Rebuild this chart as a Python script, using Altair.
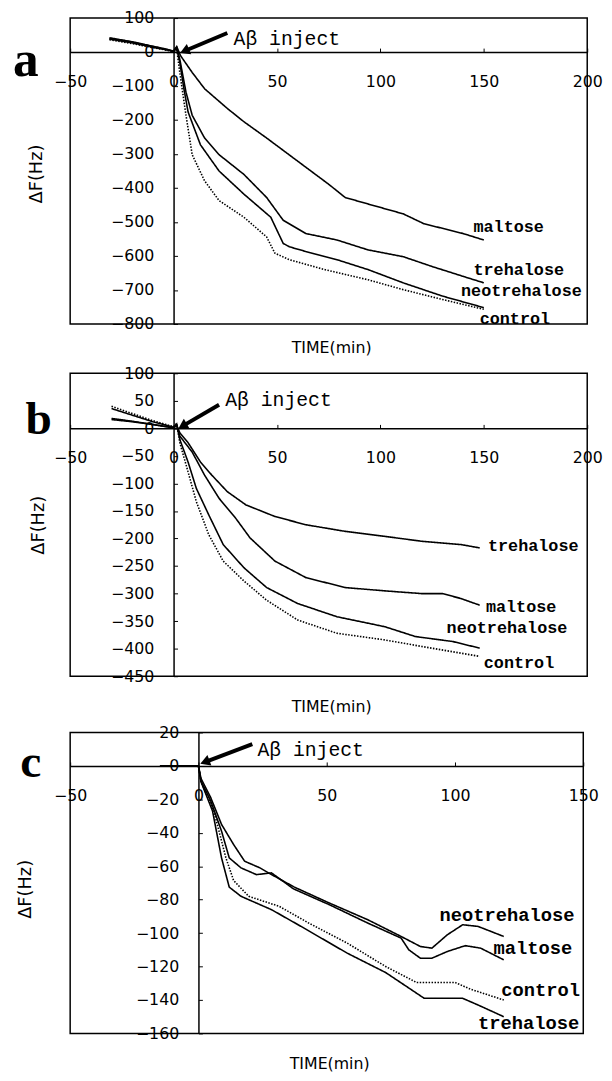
import math
import altair as alt
import pandas as pd

# ---------------- data ----------------
# Panel a
A_MALTOSE_X = [-31, -20, -10, -3, 0, 1.5, 3.4, 9, 15, 26, 34, 45, 60, 75, 83, 94, 111, 121, 140, 150]
A_MALTOSE_Y = [40, 30, 17, 8, 3, 16, -11, -60, -108, -166, -205, -253, -321, -389, -428, -447, -476, -505, -534, -553]
A_TREHALOSE_X = [-31, -20, -10, -3, 0, 1.5, 3, 6, 9, 15, 22, 34, 45, 53, 64, 79, 94, 111, 125, 140, 150]
A_TREHALOSE_Y = [42, 30, 16, 7, 2, 14, -21, -118, -186, -253, -302, -360, -428, -495, -534, -553, -582, -602, -631, -660, -679]
A_NEO_X = [-31, -20, -10, -3, 0, 1.5, 3, 5, 7, 13, 22, 34, 47, 53, 56, 64, 79, 94, 111, 130, 150]
A_NEO_Y = [38, 27, 14, 6, 1, 12, -30, -108, -176, -273, -350, -418, -486, -563, -573, -587, -611, -640, -679, -718, -752]
A_CONTROL_X = [-31, -20, -10, -3, 0, 1.5, 3, 6, 9, 15, 22, 34, 45, 49, 56, 73, 94, 111, 130, 150]
A_CONTROL_Y = [36, 25, 13, 5, 0, 10, -60, -186, -302, -379, -437, -486, -544, -592, -611, -640, -670, -699, -728, -757]

# Panel b
B_TREHALOSE_X = [-30, -20, -10, 0, 1.5, 3, 7, 13, 18.5, 26, 35, 49, 64, 83, 102, 120, 139, 148]
B_TREHALOSE_Y = [16, 12, 7, 1, 6, -8, -26, -61, -85, -115, -139, -160, -175, -187, -196, -205, -211, -217]
B_MALTOSE_X = [-30, -20, -10, 0, 1.5, 3, 9, 15, 22, 30, 37, 49, 64, 83, 102, 120, 130, 139, 148]
B_MALTOSE_Y = [18, 13, 7, 1, 5, -14, -43, -85, -127, -163, -199, -241, -271, -289, -295, -300, -300, -309, -321]
B_NEO_X = [-30, -20, -10, 0, 1.5, 3, 7, 11, 17, 24, 34, 45, 60, 79, 102, 117, 135, 148]
B_NEO_Y = [36, 24, 12, 2, 8, -20, -61, -109, -157, -211, -253, -289, -318, -342, -360, -378, -387, -399]
B_CONTROL_X = [-30, -20, -10, 0, 1.5, 3, 7, 11, 17, 24, 34, 45, 60, 79, 102, 120, 148]
B_CONTROL_Y = [40, 27, 14, 3, 9, -26, -79, -133, -193, -241, -277, -312, -348, -372, -384, -396, -414]

# Panel c
C_NEO_X = [-15, 0, 1, 4.8, 9, 13.7, 18, 24, 28.5, 37.4, 51, 66, 79, 86.5, 91, 97, 103, 109, 119]
C_NEO_Y = [0, 0, -7.5, -19, -35, -47, -57, -61, -65, -72.5, -82, -92, -102, -108, -109, -101, -95, -96, -102]
C_MALTOSE_X = [-15, 0, 1, 4.8, 9, 12, 16.6, 22.6, 28.5, 37, 51, 66, 79, 82, 86.5, 91, 97, 104, 110, 119]
C_MALTOSE_Y = [0, 0, -9, -21, -39, -55, -61, -65, -64, -73.5, -83, -94, -103, -110, -115, -115, -111, -107.5, -109, -116]
C_CONTROL_X = [-15, 0, 1, 6, 10.7, 13.7, 19.6, 31.5, 43, 58, 73, 85, 100, 106, 119]
C_CONTROL_Y = [0, 0, -9.5, -27, -55, -68.5, -78, -84, -94, -106, -120, -129.5, -129.5, -133.5, -140]
C_TREHALOSE_X = [-15, 0, 1, 5.5, 9, 12, 16.6, 28.5, 40, 58, 73, 88, 103, 109, 119]
C_TREHALOSE_Y = [0, 0, -9.5, -27, -55, -72.5, -78, -86, -96, -112, -123.6, -139, -139, -143, -150]

# series labels (text, x, y)
A_LABELS = ["maltose", "trehalose", "neotrehalose", "control"]
A_LABEL_X = [145, 145, 139, 148]
A_LABEL_Y = [-515, -641, -703, -786]
B_LABELS = ["trehalose", "maltose", "neotrehalose", "control"]
B_LABEL_X = [152, 151, 132, 150]
B_LABEL_Y = [-214, -324, -363, -426]
C_LABELS = ["neotrehalose", "maltose", "control", "trehalose"]
C_LABEL_X = [94, 115, 118, 109]
C_LABEL_Y = [-89, -109, -134, -154]

# "Aβ inject" arrows: start (x, y) -> tip (x, y), text anchor (x, y)
A_ARROW = [(26, 56), (5.3, 3)]
A_INJECT = (29, 37)
B_ARROW = [(22, 43), (4.3, 4)]
B_INJECT = (25, 52)
C_ARROW = [(21, 13), (2.5, 2.3)]
C_INJECT = (23, 9.2)

# axis ticks
AB_XTICKS = [-50, 0, 50, 100, 150, 200]
C_XTICKS = [-50, 0, 50, 100, 150]
A_YTICKS = [100, 0, -100, -200, -300, -400, -500, -600, -700, -800]
B_YTICKS = [100, 50, 0, -50, -100, -150, -200, -250, -300, -350, -400, -450]
C_YTICKS = [20, 0, -20, -40, -60, -80, -100, -120, -140, -160]

TICK_FONT = "DejaVu Sans"
LABEL_FONT = "Liberation Mono"


def make_panel(series, labels, arrow, inject, xdom, ydom, xticks, yticks, W, H,
               letter, letter_pos, letter_size, ytitle_pos, xtitle_dy, label_size):
    x0px = W * (0 - xdom[0]) / (xdom[1] - xdom[0])
    y0px = H * (ydom[1] - 0) / (ydom[1] - ydom[0])
    xs = alt.Scale(domain=xdom, nice=False, zero=False)
    ys = alt.Scale(domain=ydom, nice=False, zero=False)
    xaxis = alt.Axis(orient="top", offset=-y0px, values=xticks, format="d",
                     labelFlush=False, labelOverlap=False, labelBaseline="middle",
                     labelAlign="center", labelPadding=-34, tickSize=4, grid=False,
                     domainColor="black", domainWidth=1.5, tickColor="black",
                     labelColor="black", labelFont=TICK_FONT, labelFontSize=16, title=None)
    yaxis = alt.Axis(orient="right", offset=x0px - W, values=yticks, format="d",
                     labelFlush=False, labelOverlap=False, labelBaseline="middle",
                     labelAlign="right", labelPadding=-24, tickSize=4, grid=False,
                     domainColor="black", domainWidth=1.5, tickColor="black",
                     labelColor="black", labelFont=TICK_FONT, labelFontSize=16, title=None)

    def X(f):
        return alt.X(f, type="quantitative", scale=xs, axis=xaxis)

    def Y(f):
        return alt.Y(f, type="quantitative", scale=ys, axis=yaxis)

    rows = []
    for name, xs_, ys_, dash in series:
        for i, (xv, yv) in enumerate(zip(xs_, ys_)):
            rows.append({"x": xv, "y": yv, "series": name, "i": i, "dash": dash})
    df = pd.DataFrame(rows)

    lines = alt.Chart(df).mark_line(color="black", strokeWidth=1.6).encode(
        x=X("x"), y=Y("y"), detail="series:N", order="i:Q",
        strokeDash=alt.StrokeDash("dash:N", scale=alt.Scale(domain=["solid", "dotted"],
                                                             range=[[1, 0], [1.5, 1.5]]),
                                  legend=None),
    )

    ldf = pd.DataFrame({"t": labels[0], "x": labels[1], "y": labels[2]})
    label_layer = alt.Chart(ldf).mark_text(
        align="left", baseline="middle", font=LABEL_FONT, fontWeight="bold",
        fontSize=label_size, color="black").encode(x=X("x"), y=Y("y"), text="t:N")

    adf = pd.DataFrame({"x": [arrow[0][0], arrow[1][0]], "y": [arrow[0][1], arrow[1][1]],
                        "i": [0, 1]})
    shaft = alt.Chart(adf).mark_line(color="black", strokeWidth=4).encode(
        x=X("x"), y=Y("y"), order="i:Q")
    # arrowhead direction in pixel space
    kx = W / (xdom[1] - xdom[0])
    ky = H / (ydom[1] - ydom[0])
    dxp = (arrow[1][0] - arrow[0][0]) * kx
    dyp = -(arrow[1][1] - arrow[0][1]) * ky
    ang = math.degrees(math.atan2(dxp, -dyp)) % 360
    hdf = pd.DataFrame({"x": [arrow[1][0]], "y": [arrow[1][1]]})
    head = alt.Chart(hdf).mark_point(shape="triangle-up", filled=True, size=130,
                                     color="black", opacity=1, angle=ang).encode(
        x=X("x"), y=Y("y"))

    idf = pd.DataFrame({"t": ["Aβ inject"], "x": [inject[0]], "y": [inject[1]]})
    inject_text = alt.Chart(idf).mark_text(
        align="left", baseline="middle", font=LABEL_FONT, fontSize=20,
        color="black").encode(x=X("x"), y=Y("y"), text="t:N")

    letter_layer = alt.Chart(pd.DataFrame({"t": [letter]})).mark_text(
        font="Liberation Serif", fontWeight="bold", fontSize=letter_size,
        color="black", align="center", baseline="middle").encode(
        x=alt.value(letter_pos[0]), y=alt.value(letter_pos[1]), text="t:N")

    ytitle = alt.Chart(pd.DataFrame({"t": ["ΔF(Hz)"]})).mark_text(
        font=TICK_FONT, fontSize=18, angle=270, color="black",
        align="center", baseline="middle").encode(
        x=alt.value(ytitle_pos[0]), y=alt.value(ytitle_pos[1]), text="t:N")

    xtitle = alt.Chart(pd.DataFrame({"t": ["TIME(min)"]})).mark_text(
        font=TICK_FONT, fontSize=16, color="black",
        align="center", baseline="middle").encode(
        x=alt.value(W / 2 + 3), y=alt.value(H + xtitle_dy), text="t:N")

    return alt.layer(lines, label_layer, shaft, head, inject_text,
                     letter_layer, ytitle, xtitle).properties(width=W, height=H)


pa = make_panel(
    [("maltose", A_MALTOSE_X, A_MALTOSE_Y, "solid"),
     ("trehalose", A_TREHALOSE_X, A_TREHALOSE_Y, "solid"),
     ("neotrehalose", A_NEO_X, A_NEO_Y, "solid"),
     ("control", A_CONTROL_X, A_CONTROL_Y, "dotted")],
    (A_LABELS, A_LABEL_X, A_LABEL_Y), A_ARROW, A_INJECT,
    [-50, 200], [-800, 100], AB_XTICKS, A_YTICKS, 524, 310,
    "a", (-45, 43), 52, (-34, 158), 24, 17)

pb = make_panel(
    [("trehalose", B_TREHALOSE_X, B_TREHALOSE_Y, "solid"),
     ("maltose", B_MALTOSE_X, B_MALTOSE_Y, "solid"),
     ("neotrehalose", B_NEO_X, B_NEO_Y, "solid"),
     ("control", B_CONTROL_X, B_CONTROL_Y, "dotted")],
    (B_LABELS, B_LABEL_X, B_LABEL_Y), B_ARROW, B_INJECT,
    [-50, 200], [-450, 100], AB_XTICKS, B_YTICKS, 524, 307,
    "b", (-32, 48), 48, (-32, 154), 31, 17)

pc = make_panel(
    [("neotrehalose", C_NEO_X, C_NEO_Y, "solid"),
     ("maltose", C_MALTOSE_X, C_MALTOSE_Y, "solid"),
     ("control", C_CONTROL_X, C_CONTROL_Y, "dotted"),
     ("trehalose", C_TREHALOSE_X, C_TREHALOSE_Y, "solid")],
    (C_LABELS, C_LABEL_X, C_LABEL_Y), C_ARROW, C_INJECT,
    [-50, 150], [-160, 20], C_XTICKS, C_YTICKS, 520, 305,
    "c", (-40, 31), 48, (-45, 159), 31, 19)

chart = alt.vconcat(pa, pb, pc, spacing=8).properties(
    padding={"left": 4, "top": -6, "right": 0, "bottom": 0},
    background="white",
).configure_view(stroke="black", strokeWidth=1.5)

chart.save("out.html", embed_options={"renderer": "svg", "actions": False})
